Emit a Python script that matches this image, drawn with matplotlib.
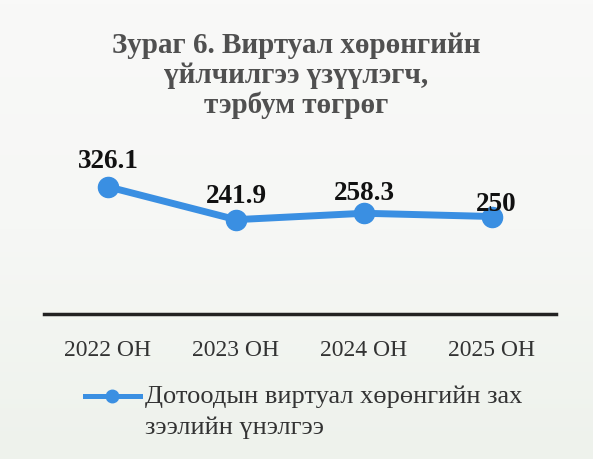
import matplotlib
matplotlib.use("Agg")
import matplotlib.pyplot as plt
import numpy as np
from matplotlib.lines import Line2D
from matplotlib.colors import LinearSegmentedColormap

years = ["2022 ОН", "2023 ОН", "2024 ОН", "2025 ОН"]
values = [326.1, 241.9, 258.3, 250]
value_labels = ["326.1", "241.9", "258.3", "250"]
title_lines = ["Зураг 6. Виртуал хөрөнгийн", "үйлчилгээ үзүүлэгч,", "тэрбум төгрөг"]
legend_line1 = "Дотоодын виртуал хөрөнгийн зах"
legend_line2 = "зээлийн үнэлгээ"

BLUE = "#3a8fe2"
W, H = 593, 460

plt.rcParams["font.family"] = ["Liberation Serif", "DejaVu Serif"]

fig = plt.figure(figsize=(W / 100, H / 100), dpi=100, facecolor="#f7f8f6")

# subtle scanned-paper background gradient
bg = fig.add_axes([0, 0, 1, 1], zorder=-10)
cmap = LinearSegmentedColormap.from_list("bg", ["#f9f9f8", "#f6f7f5", "#eef2ec"])
bg.imshow(np.linspace(0, 1, 100).reshape(-1, 1), aspect="auto", cmap=cmap,
          extent=[0, 1, 0, 1], origin="upper")
bg.axis("off")

ax = fig.add_axes([44 / W, 1 - 315 / H, 512 / W, 156 / H])
ax.set_facecolor("none")

x = list(range(len(years)))
ax.plot(x, values, color=BLUE, lw=5, marker="o", ms=14.5, solid_capstyle="round")
ax.set_xlim(-0.5, 3.5)
ax.set_ylim(0, 400)

offsets = [(0, 14.5), (0, 12.5), (0, 10), (3, 5)]
for xi, v, lab, off in zip(x, values, value_labels, offsets):
    ax.annotate(lab, (xi, v), xytext=off, textcoords="offset points",
                ha="center", va="baseline", fontsize=19.5, fontweight="bold",
                color="#111111")

for s in ["top", "right", "left"]:
    ax.spines[s].set_visible(False)
ax.spines["bottom"].set_linewidth(2.5)
ax.spines["bottom"].set_color("#222222")
ax.set_yticks([])
ax.set_xticks(x)
ax.set_xticklabels(years, fontsize=17, color="#333333")
ax.tick_params(axis="x", length=0, pad=18)

for i, line in enumerate(title_lines):
    fig.text(0.5, 1 - (53 + 30 * i) / H, line, ha="center", va="baseline",
             fontsize=21, fontweight="bold", color="#505050")

# legend
ly = 1 - 397 / H
fig.add_artist(Line2D([85 / W, 140 / W], [ly, ly], color=BLUE, lw=3.6,
                      transform=fig.transFigure))
fig.add_artist(Line2D([112 / W], [ly], color=BLUE, marker="o", ms=9,
                      transform=fig.transFigure))
fig.text(145 / W, ly, legend_line1, ha="left", va="center", fontsize=19, color="#333333")
fig.text(145 / W, 1 - 428 / H, legend_line2, ha="left", va="center", fontsize=19, color="#333333")

fig.savefig("out.png", dpi=100)
